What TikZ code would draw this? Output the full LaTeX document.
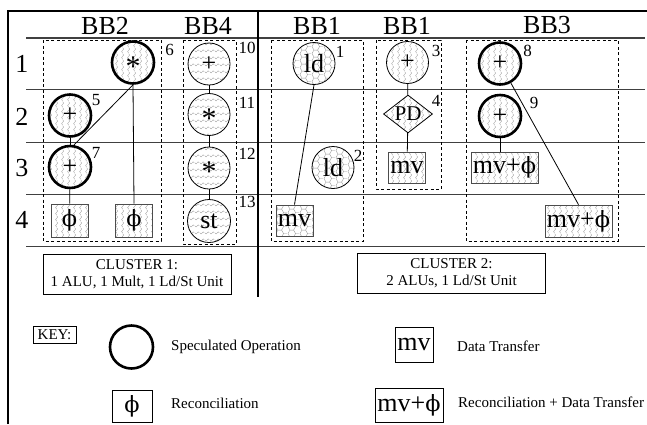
\documentclass[tikz,border=0pt]{standalone}
\usepackage{fontspec}
\setmainfont{Liberation Serif}
\newfontfamily\phifont[Scale=0.86]{DejaVu Serif}
\newcommand\phisym{{\phifont ϕ}}
\usepackage{tikz}
\usetikzlibrary{arrows.meta,positioning,shapes.geometric,patterns}

% fill patterns of the operations
\pgfdeclarepatternformonly{vwave}{\pgfqpoint{0pt}{0pt}}{\pgfqpoint{6pt}{6pt}}{\pgfqpoint{6pt}{6pt}}{%
  \pgfsetlinewidth{0.4pt}%
  \pgfpathmoveto{\pgfqpoint{3pt}{0pt}}%
  \pgfpathlineto{\pgfqpoint{1.8pt}{1.5pt}}%
  \pgfpathlineto{\pgfqpoint{4.2pt}{4.5pt}}%
  \pgfpathlineto{\pgfqpoint{3pt}{6pt}}%
  \pgfusepath{stroke}}
\pgfdeclarepatternformonly{hzig}{\pgfqpoint{0pt}{0pt}}{\pgfqpoint{5pt}{7pt}}{\pgfqpoint{5pt}{7pt}}{%
  \pgfsetlinewidth{0.4pt}%
  \pgfpathmoveto{\pgfqpoint{0pt}{3.5pt}}%
  \pgfpathlineto{\pgfqpoint{1.25pt}{2.3pt}}%
  \pgfpathlineto{\pgfqpoint{3.75pt}{4.7pt}}%
  \pgfpathlineto{\pgfqpoint{5pt}{3.5pt}}%
  \pgfusepath{stroke}}
\pgfdeclarepatternformonly{honey}{\pgfqpoint{0pt}{0pt}}{\pgfqpoint{12pt}{6.93pt}}{\pgfqpoint{12pt}{6.93pt}}{%
  \pgfsetlinewidth{0.4pt}%
  \pgfpathmoveto{\pgfqpoint{0pt}{3.46pt}}%
  \pgfpathlineto{\pgfqpoint{2pt}{6.93pt}}%
  \pgfpathlineto{\pgfqpoint{6pt}{6.93pt}}%
  \pgfpathlineto{\pgfqpoint{8pt}{3.46pt}}%
  \pgfpathlineto{\pgfqpoint{6pt}{0pt}}%
  \pgfpathlineto{\pgfqpoint{2pt}{0pt}}%
  \pgfpathclose
  \pgfpathmoveto{\pgfqpoint{8pt}{3.46pt}}%
  \pgfpathlineto{\pgfqpoint{12pt}{3.46pt}}%
  \pgfusepath{stroke}}

\tikzset{
  op/.style={circle, draw, line width=0.8pt, minimum size=42pt, inner sep=0pt, font=\fontsize{26}{26}\selectfont},
  spec/.style={op, line width=2.6pt},
  mulop/.style={text height=27pt, text depth=0pt, font=\fontsize{30}{30}\selectfont},
  wavy/.style={pattern=vwave, pattern color=black!40},
  zig/.style={pattern=hzig, pattern color=black!40},
  hexa/.style={pattern=honey, pattern color=black!40},
  xfer/.style={rectangle, draw=black!70, line width=0.8pt, minimum width=37pt, minimum height=31pt, inner sep=0pt, font=\fontsize{26}{26}\selectfont},
  numlbl/.style={font=\fontsize{17}{17}\selectfont, inner sep=0pt},
  bbhead/.style={font=\fontsize{26}{26}\selectfont, inner sep=0pt},
  bbbox/.style={dash pattern=on 3pt off 2.5pt, line width=0.9pt},
  rowline/.style={draw=black!75, line width=1.2pt},
  link/.style={line width=0.8pt},
  clusterbox/.style={draw, line width=0.9pt, align=center, minimum width=188pt, minimum height=40pt, inner sep=0pt, font=\fontsize{15}{17}\selectfont},
  keytxt/.style={anchor=west, inner sep=0pt, font=\fontsize{15}{17}\selectfont}
}

\begin{document}
\begin{tikzpicture}[x=1pt,y=-1pt]
\useasboundingbox (0,0) rectangle (647,424);

% frame and grid
\draw[line width=1.5pt] (8,424) -- (8,11) -- (647,11);
\foreach \yy in {38,89.5,142.5,194.7,246.7}
  \draw[rowline] (26,\yy) -- (645,\yy);
\draw[line width=1.5pt] (258,11) -- (258,297);

% headers and cycle numbers
\foreach \x/\lbl in {105/BB2,208/BB4,317/BB1,407/BB1,547/BB3}
  \node[bbhead] (h\x) at (\x,25.5) {\lbl};
\foreach \yy/\r in {64/1,117/2,168/3,219.5/4}
  \node[bbhead] (row\r) at (22,\yy) {\r};

% basic blocks
\draw[bbbox] (43,40) rectangle (161,241);
\draw[bbbox] (183,40) rectangle (236,244);
\draw[bbbox] (271,40) rectangle (363,241);
\draw[bbbox] (376,40) rectangle (441,189);
\draw[bbbox] (466,40) rectangle (618,241);

% cluster 1
\node[spec, wavy, mulop] (n6) at (133,62.5) {*};
\node[spec, wavy] (n5) at (70,115.5) {+};
\node[spec, wavy] (n7) at (70,167) {+};
\node[xfer, wavy, minimum height=33pt] (phi1) at (69.5,220.5) {\phisym};
\node[xfer, wavy, minimum height=33pt] (phi2) at (134,220.5) {\phisym};
\node[op, zig] (n10) at (209,64) {+};
\node[op, zig, mulop] (n11) at (209,114.5) {*};
\node[op, zig, mulop] (n12) at (209,168) {*};
\node[op, zig, minimum size=43pt] (n13) at (209,221) {st};

\draw[link] (n5) -- (n7);
\draw[link] (n7) -- (phi1);
\draw[link] (n6.south) -- (n7.80);
\draw[link] (n6.south) -- (phi2.north);
\draw[link] (n10) -- (n11);
\draw[link] (n11) -- (n12);
\draw[link] (n12) -- (n13);

% cluster 2
\node[op, hexa] (n1) at (314,63.5) {ld};
\node[op, hexa] (n2) at (333,167.5) {ld};
\node[xfer, hexa] (mv1) at (294.5,220.5) {mv};
\node[op, wavy] (n3) at (407.5,62.5) {+};
\node[diamond, draw, wavy, line width=0.8pt, aspect=1.4, minimum width=49pt, minimum height=38pt, inner sep=0pt, font=\fontsize{21}{21}\selectfont] (n4) at (408,114) {PD};
\node[xfer, wavy] (mv2) at (407,167.5) {mv};
\node[spec, wavy] (n8) at (500,63.5) {+};
\node[spec, wavy] (n9) at (500,116) {+};
\node[xfer, wavy, minimum width=67pt] (mvp1) at (504.5,167.5) {mv+\phisym};
\node[xfer, wavy, minimum width=67pt, minimum height=32pt] (mvp2) at (578.5,221) {mv+\phisym};

\draw[link] (n1.south) -- (mv1.north);
\draw[link] (n3) -- (n4);
\draw[link] (n4) -- (mv2);
\draw[link] (n9.south) -- (n9.south |- mvp1.north);
\draw[link] (n8) -- (mvp2.north);

% operation numbers
\foreach \nx/\ny/\k in {169.5/49.5/6,96/100.5/5,96/152.5/7,247/48/10,247/102.5/11,247/154/12,247/202/13,340/52/1,358/156/2,436/51/3,436/101/4,527.5/51/8,534/102.5/9}
  \node[numlbl] (lbl\k) at (\nx,\ny) {\k};

% clusters
\node[clusterbox] (c1) at (137,274) {CLUSTER 1:\\1 ALU, 1 Mult, 1 Ld/St Unit};
\node[clusterbox] (c2) at (451.5,273.5) {CLUSTER 2:\\2 ALUs, 1 Ld/St Unit};

% key
\node[draw, line width=0.8pt, minimum width=43pt, minimum height=17pt, inner sep=0pt, font=\fontsize{15}{17}\selectfont] (key) at (54.5,334.5) {KEY:};
\node[spec, minimum size=43pt] (kspec) at (131.5,347) {};
\node[keytxt] (tspec) at (171,347) {Speculated Operation};
\node[xfer, draw=black, minimum width=40pt, minimum height=32pt] (kphi) at (132,406) {\phisym};
\node[keytxt] (tphi) at (171,403) {Reconciliation};
\node[xfer, draw=black, minimum width=38pt, minimum height=35pt] (kmv) at (414,344.5) {mv};
\node[keytxt] (tmv) at (457,346) {Data Transfer};
\node[xfer, draw=black, minimum width=68pt, minimum height=34pt] (kmvp) at (409,405) {mv+\phisym};
\node[keytxt] (tmvp) at (458,402) {Reconciliation + Data Transfer};
\end{tikzpicture}
\end{document}
